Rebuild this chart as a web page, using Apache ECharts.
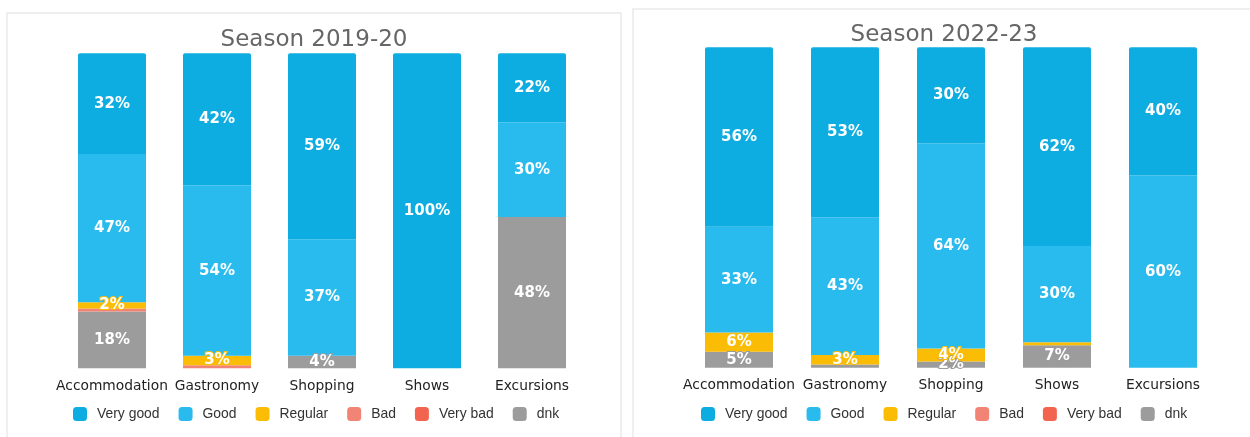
<!DOCTYPE html>
<html>
<head>
<meta charset="utf-8">
<script src="https://cdn.jsdelivr.net/npm/echarts@6/dist/echarts.min.js"></script>
<style>
  html, body { margin: 0; padding: 0; background: #fff; width: 1250px; height: 437px; overflow: hidden; }
  .panel { position: absolute; box-sizing: border-box; border: 2px solid #efefef; background: #fff; }
  #p1 { left: 6px; top: 12px; width: 616px; height: 440px; }
  #p2 { left: 632px; top: 8px; width: 624px; height: 440px; }
</style>
</head>
<body>
<div id="p1" class="panel"></div>
<div id="p2" class="panel"></div>
<script>
// Survey categories and answer levels
const categories = ['Accommodation', 'Gastronomy', 'Shopping', 'Shows', 'Excursions'];
const answerLevels = ['Very good', 'Good', 'Regular', 'Bad', 'Very bad', 'dnk'];

// Season 2019-20 (percent of answers)
const s1920VeryGood = [32, 42, 59, 100, 22];
const s1920Good     = [47, 54, 37, 0, 30];
const s1920Regular  = [2, 3, 0, 0, 0];
const s1920Bad      = [1, 1, 0, 0, 0];
const s1920VeryBad  = [0, 0, 0, 0, 0];
const s1920Dnk      = [18, 0, 4, 0, 48];

// Season 2022-23 (percent of answers)
const s2223VeryGood = [56, 53, 30, 62, 40];
const s2223Good     = [33, 43, 64, 30, 60];
const s2223Regular  = [6, 3, 4, 1, 0];
const s2223Bad      = [0, 0, 0, 0, 0];
const s2223VeryBad  = [0, 0, 0, 0, 0];
const s2223Dnk      = [5, 1, 2, 7, 0];

const levelColors = {
  'Very good': '#0eade1',
  'Good': '#2abbee',
  'Regular': '#fbbc05',
  'Bad': '#f28475',
  'Very bad': '#f2644f',
  'dnk': '#9c9c9c'
};

function buildOption(title, values, layout) {
  // stack from the bottom up: dnk first, Very good on top
  const stackOrder = ['dnk', 'Very bad', 'Bad', 'Regular', 'Good', 'Very good'];
  const series = stackOrder.map(name => ({
    name: name,
    type: 'bar',
    stack: 'total',
    barWidth: 68,
    data: values[name].map(v => (v > 0 ? v : null)),
    itemStyle: {
      color: levelColors[name],
      borderRadius: name === 'Very good' ? [2, 2, 0, 0] : 0
    },
    label: {
      show: true,
      position: 'inside',
      formatter: p => (p.value >= 2 ? p.value + '%' : ''),
      color: '#fff',
      fontFamily: 'DejaVu Sans',
      fontWeight: 'bold',
      fontSize: 15,
      textBorderColor: levelColors[name],
      textBorderWidth: 2
    },
    emphasis: { disabled: true }
  }));
  return {
    animation: false,
    title: {
      text: title,
      left: 'center',
      top: layout.titleTop,
      textStyle: { fontFamily: 'DejaVu Sans', fontWeight: 'normal', fontSize: 23, color: '#666' }
    },
    legend: {
      data: answerLevels,
      left: layout.legendLeft,
      top: layout.legendTop,
      padding: 0,
      itemWidth: 14,
      itemHeight: 14,
      itemGap: 19,
      icon: 'roundRect',
      textStyle: { fontFamily: 'Liberation Sans', fontSize: 13.9, color: '#333', padding: [0, 0, 0, 5] }
    },
    grid: {
      left: layout.gridLeft,
      top: layout.gridTop,
      width: layout.gridWidth,
      height: layout.gridHeight
    },
    xAxis: {
      type: 'category',
      data: categories,
      axisLine: { show: false },
      axisTick: { show: false },
      axisLabel: { margin: 11, fontFamily: 'DejaVu Sans', fontSize: 13.8, color: '#222', interval: 0 }
    },
    yAxis: {
      type: 'value',
      min: 0,
      max: 100,
      show: false
    },
    series: series
  };
}

const chart1 = echarts.init(document.getElementById('p1'), null, { renderer: 'canvas' });
chart1.setOption(buildOption('Season 2019-20', {
  'Very good': s1920VeryGood,
  'Good': s1920Good,
  'Regular': s1920Regular,
  'Bad': s1920Bad,
  'Very bad': s1920VeryBad,
  'dnk': s1920Dnk
}, { titleTop: 10, legendLeft: 65, legendTop: 393, gridLeft: 51.5, gridTop: 39.3, gridWidth: 525, gridHeight: 315 }));

const chart2 = echarts.init(document.getElementById('p2'), null, { renderer: 'canvas' });
chart2.setOption(buildOption('Season 2022-23', {
  'Very good': s2223VeryGood,
  'Good': s2223Good,
  'Regular': s2223Regular,
  'Bad': s2223Bad,
  'Very bad': s2223VeryBad,
  'dnk': s2223Dnk
}, { titleTop: 9, legendLeft: 67, legendTop: 397, gridLeft: 52, gridTop: 37.3, gridWidth: 530, gridHeight: 320.5 }));
</script>
</body>
</html>
